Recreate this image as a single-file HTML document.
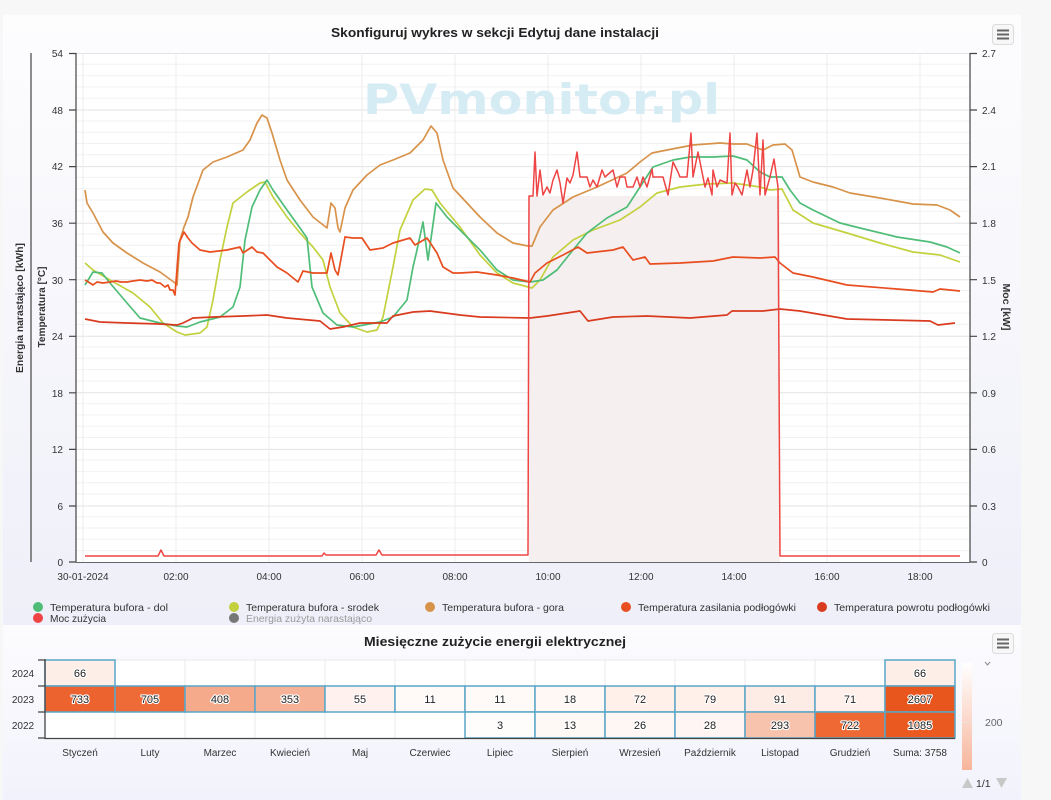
<!DOCTYPE html>
<html><head><meta charset="utf-8"><style>
html,body{margin:0;padding:0;background:#f7f7f7;width:1051px;height:800px;overflow:hidden}
svg{display:block;font-family:"Liberation Sans",sans-serif}
.t{font-size:10px;fill:#333}
.lg{font-size:10.5px;fill:#333}
.hv{font-size:11px;fill:#222;paint-order:stroke;stroke:#fff;stroke-width:2.2px;stroke-linejoin:round;text-anchor:middle}
</style></head><body>
<svg width="1051" height="800" viewBox="0 0 1051 800" xmlns="http://www.w3.org/2000/svg">
<defs>
<linearGradient id="bg1" x1="0" y1="0" x2="0" y2="1"><stop offset="0" stop-color="#fdfdfe"/><stop offset="1" stop-color="#efeff9"/></linearGradient>
<linearGradient id="bg2" x1="0" y1="0" x2="0" y2="1"><stop offset="0" stop-color="#fcfcfe"/><stop offset="1" stop-color="#f2f2fc"/></linearGradient>
<linearGradient id="cb" x1="0" y1="0" x2="0" y2="1"><stop offset="0" stop-color="#ffffff"/><stop offset="1" stop-color="#f7b59b"/></linearGradient>
</defs>
<rect x="0" y="0" width="1051" height="800" fill="#f7f7f7"/>
<rect x="3" y="15" width="1018" height="610" fill="url(#bg1)"/>
<rect x="3" y="625" width="1018" height="175" fill="url(#bg2)"/>
<rect x="76" y="53" width="894" height="509" fill="#fff"/>

<!-- minor grid -->
<g stroke="#f2f2f2" stroke-width="1">
<path d="M76 64.3H970M76 75.6H970M76 86.9H970M76 98.3H970M76 121H970M76 132.2H970M76 143.5H970M76 154.8H970M76 177.4H970M76 188.7H970M76 200H970M76 211.4H970M76 234H970M76 245.3H970M76 256.6H970M76 267.9H970M76 290.5H970M76 301.8H970M76 313.1H970M76 324.4H970M76 347H970M76 358.3H970M76 369.6H970M76 381H970M76 403.6H970M76 414.9H970M76 426.2H970M76 437.5H970M76 460.1H970M76 471.4H970M76 482.7H970M76 494H970M76 516.7H970M76 528H970M76 539.3H970M76 550.6H970"/>
</g>
<!-- major grid -->
<g stroke="#e3e3e3" stroke-width="1">
<path d="M76 53.5H970M76 110H970M76 166.6H970M76 223.2H970M76 279.7H970M76 336.3H970M76 392.8H970M76 449.4H970M76 506H970"/>
<path d="M83 53V562M176 53V562M269 53V562M362 53V562M455 53V562M548 53V562M641 53V562M734 53V562M827 53V562M920 53V562" stroke="#ececec"/>
</g>

<!-- watermark -->
<text x="363" y="114" font-family="DejaVu Sans,Liberation Sans,sans-serif" font-weight="bold" font-size="42" fill="#d6ecf4" textLength="357" lengthAdjust="spacingAndGlyphs">PVmonitor.pl</text>

<!-- power fill -->
<rect x="529" y="196" width="251" height="366" fill="#f5efef"/>

<!-- series -->
<g fill="none" stroke-width="1.7" stroke-linejoin="round">
<polyline stroke="#d8934b" points="85,190 87,203 93,213 103,232 113,243 127,253 143,263 160,272 175,283 177,285 180,240 184,227 188,217 193,197 203,170 213,162 227,157 243,150 250,140 257,123 262,115 267,118 272,133 280,160 287,180 300,200 313,217 327,228 331,203 335,208 338,228 340,232 345,208 353,190 367,175 380,165 393,160 410,153 423,140 431,126 437,133 443,160 453,188 480,217 497,233 513,243 528,246 532,246 540,227 553,210 573,197 597,187 627,173 640,162 652,153 667,150 693,145 720,143 733,144 747,144 757,148 763,150 773,145 785,144 792,150 800,177 813,182 833,187 850,193 880,198 913,204 937,205 950,210 960,217"/>
<polyline stroke="#c3d13f" points="85,263 93,270 110,280 133,293 150,307 163,323 177,332 185,335 200,333 207,327 213,300 220,260 227,227 233,203 247,192 260,183 265,182 273,197 287,217 300,233 313,247 323,260 330,287 340,313 353,327 367,332 377,330 383,317 393,267 400,230 413,200 425,189 432,190 440,203 460,227 480,255 497,273 513,283 532,288 540,280 553,257 573,240 593,230 620,220 640,207 657,193 680,187 707,184 733,183 760,187 770,190 782,189 793,210 813,223 847,233 880,243 913,252 940,255 960,262"/>
<polyline stroke="#4fbd78" points="85,285 93,272 102,273 110,283 127,303 140,318 160,323 177,326 187,327 200,322 220,317 233,307 240,287 245,240 252,207 260,190 267,180 273,190 287,210 300,228 307,238 312,287 323,313 337,325 353,327 380,322 393,317 407,300 413,267 417,250 423,222 428,260 436,203 447,217 460,230 480,250 497,270 513,280 530,282 543,280 557,270 573,250 587,233 607,218 627,207 640,187 653,167 673,160 690,157 713,157 733,156 747,160 760,172 770,177 782,177 790,190 800,203 813,210 840,223 860,228 897,237 930,242 947,247 960,253"/>
<polyline stroke="#e84e20" points="85,280 90,283 93,285 97,282 103,283 110,282 116,281 121,282 127,282 133,281 140,280 147,281 152,280 157,283 160,283 165,287 168,285 170,290 173,290 175,295 179,243 184,232 188,238 192,243 200,250 210,252 227,250 240,247 243,253 252,247 257,252 263,253 277,267 287,273 298,282 303,271 313,273 327,273 331,253 335,270 338,275 345,237 353,238 362,238 370,250 383,248 393,243 410,238 415,245 427,238 437,253 443,267 453,273 460,273 477,272 497,275 513,278 530,282 535,273 547,263 563,255 578,247 587,253 613,250 623,247 633,260 645,257 650,264 680,263 713,261 733,257 760,258 775,257 780,263 793,273 813,277 847,285 897,289 933,292 940,289 960,291"/>
<polyline stroke="#d93b1f" points="85,319 100,322 127,323 160,324 177,325 183,323 193,318 213,317 243,316 267,315 287,318 320,321 330,329 343,327 360,323 387,323 393,316 413,312 430,311 460,315 480,317 530,318 547,316 580,311 588,321 613,317 647,316 690,318 727,315 732,311 763,311 780,309 800,311 847,319 930,321 938,325 955,323"/>
<polyline stroke="#ef4444" stroke-width="1.5" points="85,556 158,556 161,550 164,556 322,556 324,553 326,555 376,555 379,550 382,555 528,555 529,196 533,196 535,152 537,196 540,170 543,195 547,187 550,193 553,180 557,170 560,183 563,203 567,178 570,183 573,175 577,152 580,177 587,177 590,187 593,180 597,187 602,170 605,177 613,170 617,187 620,177 625,177 627,187 633,187 637,177 640,187 643,177 647,187 652,169 653,177 663,177 668,195 673,162 678,172 680,177 687,177 691,133 693,177 698,152 702,172 705,187 708,178 712,195 713,170 717,187 720,180 727,183 730,133 732,195 735,183 738,187 742,195 747,170 750,187 753,170 757,133 760,195 763,140 765,195 770,177 774,159 778,187 780,556 960,556"/>
</g>

<!-- axes -->
<g stroke="#444" stroke-width="1.2" fill="none">
<path d="M76 53V562M970 53V562M31 53V562"/>
<path d="M69 53.5H76M69 110H76M69 166.6H76M69 223.2H76M69 279.7H76M69 336.3H76M69 392.8H76M69 449.4H76M69 506H76M69 562H76"/>
<path d="M970 53.5H977M970 110H977M970 166.6H977M970 223.2H977M970 279.7H977M970 336.3H977M970 392.8H977M970 449.4H977M970 506H977M970 562H977"/>
</g>
<path d="M76 562.5H970" stroke="#666" stroke-width="1" fill="none"/>
<g class="t" text-anchor="end">
<text x="63" y="57">54</text><text x="63" y="114">48</text><text x="63" y="170">42</text><text x="63" y="227">36</text><text x="63" y="284">30</text><text x="63" y="340">24</text><text x="63" y="397">18</text><text x="63" y="453">12</text><text x="63" y="510">6</text><text x="63" y="566">0</text>
</g>
<g class="t">
<text x="982" y="57">2.7</text><text x="982" y="114">2.4</text><text x="982" y="170">2.1</text><text x="982" y="227">1.8</text><text x="982" y="284">1.5</text><text x="982" y="340">1.2</text><text x="982" y="397">0.9</text><text x="982" y="453">0.6</text><text x="982" y="510">0.3</text><text x="982" y="566">0</text>
</g>
<g class="t" text-anchor="middle">
<text x="83" y="580">30-01-2024</text><text x="176" y="580">02:00</text><text x="269" y="580">04:00</text><text x="362" y="580">06:00</text><text x="455" y="580">08:00</text><text x="548" y="580">10:00</text><text x="641" y="580">12:00</text><text x="734" y="580">14:00</text><text x="827" y="580">16:00</text><text x="920" y="580">18:00</text>
</g>
<text transform="translate(23,308) rotate(-90)" text-anchor="middle" font-size="10" font-weight="bold" fill="#333" textLength="130" lengthAdjust="spacingAndGlyphs">Energia narastająco [kWh]</text>
<text transform="translate(45,307) rotate(-90)" text-anchor="middle" font-size="10" font-weight="bold" fill="#333" textLength="81" lengthAdjust="spacingAndGlyphs">Temperatura [°C]</text>
<text transform="translate(1003,307) rotate(90)" text-anchor="middle" font-size="10" font-weight="bold" fill="#333" textLength="47" lengthAdjust="spacingAndGlyphs">Moc [kW]</text>

<text x="495" y="37" text-anchor="middle" font-size="13" font-weight="bold" fill="#222" textLength="328" lengthAdjust="spacingAndGlyphs">Skonfiguruj wykres w sekcji Edytuj dane instalacji</text>

<!-- menu buttons -->
<g>
<rect x="992.5" y="24.5" width="21" height="20" rx="3" fill="#f7f7f7" stroke="#dcdcdc"/>
<path d="M997 30.5H1009M997 34.5H1009M997 38.5H1009" stroke="#666" stroke-width="2"/>
<rect x="992.5" y="633.5" width="21" height="20" rx="3" fill="#f7f7f7" stroke="#dcdcdc"/>
<path d="M997 639.5H1009M997 643.5H1009M997 647.5H1009" stroke="#666" stroke-width="2"/>
</g>

<!-- legend -->
<g>
<circle cx="38" cy="607" r="5" fill="#4fbd78"/><text class="lg" x="50" y="611" textLength="118" lengthAdjust="spacingAndGlyphs">Temperatura bufora - dol</text>
<circle cx="234" cy="607" r="5" fill="#c3d13f"/><text class="lg" x="246" y="611" textLength="133" lengthAdjust="spacingAndGlyphs">Temperatura bufora - srodek</text>
<circle cx="430" cy="607" r="5" fill="#d8934b"/><text class="lg" x="442" y="611" textLength="122" lengthAdjust="spacingAndGlyphs">Temperatura bufora - gora</text>
<circle cx="626" cy="607" r="5" fill="#e84e20"/><text class="lg" x="638" y="611" textLength="158" lengthAdjust="spacingAndGlyphs">Temperatura zasilania podłogówki</text>
<circle cx="822" cy="607" r="5" fill="#d93b1f"/><text class="lg" x="834" y="611" textLength="156" lengthAdjust="spacingAndGlyphs">Temperatura powrotu podłogówki</text>
<circle cx="38" cy="618" r="5" fill="#ef4444"/><text class="lg" x="50" y="622" textLength="56" lengthAdjust="spacingAndGlyphs">Moc zużycia</text>
<circle cx="234" cy="618" r="5" fill="#777"/><text class="lg" x="246" y="622" style="fill:#9a9a9a" textLength="126" lengthAdjust="spacingAndGlyphs">Energia zużyta narastająco</text>
</g>

<!-- heatmap -->
<text x="495" y="646" text-anchor="middle" font-size="13" font-weight="bold" fill="#222" textLength="262" lengthAdjust="spacingAndGlyphs">Miesięczne zużycie energii elektrycznej</text>
<rect x="45" y="660" width="910" height="78" fill="#fff"/>
<g stroke="#e8e8e8" stroke-width="1" fill="none">
<path d="M45 686H955M45 712H955M115 660V738M185 660V738M255 660V738M325 660V738M395 660V738M465 660V738M535 660V738M605 660V738M675 660V738M745 660V738M815 660V738M885 660V738M45 660H955M955 660V738"/>
</g>
<g stroke="#5aa6c8" stroke-width="1.5">
<rect x="45" y="660" width="70" height="26" fill="#fdeee8"/>
<rect x="885" y="660" width="70" height="26" fill="#fdeee8"/>
<rect x="45" y="686" width="70" height="26" fill="#ec6330"/>
<rect x="115" y="686" width="70" height="26" fill="#ee6a36"/>
<rect x="185" y="686" width="70" height="26" fill="#f4aa8b"/>
<rect x="255" y="686" width="70" height="26" fill="#f5b297"/>
<rect x="325" y="686" width="70" height="26" fill="#fff2ee"/>
<rect x="395" y="686" width="70" height="26" fill="#fffaf8"/>
<rect x="465" y="686" width="70" height="26" fill="#fffaf8"/>
<rect x="535" y="686" width="70" height="26" fill="#fff8f5"/>
<rect x="605" y="686" width="70" height="26" fill="#fff0ea"/>
<rect x="675" y="686" width="70" height="26" fill="#fff0ea"/>
<rect x="745" y="686" width="70" height="26" fill="#fdece5"/>
<rect x="815" y="686" width="70" height="26" fill="#fff0eb"/>
<rect x="885" y="686" width="70" height="26" fill="#e8561e"/>
<rect x="465" y="712" width="70" height="26" fill="#fffdfc"/>
<rect x="535" y="712" width="70" height="26" fill="#fff9f6"/>
<rect x="605" y="712" width="70" height="26" fill="#fff7f4"/>
<rect x="675" y="712" width="70" height="26" fill="#fff6f3"/>
<rect x="745" y="712" width="70" height="26" fill="#f8c3ad"/>
<rect x="815" y="712" width="70" height="26" fill="#ee6934"/>
<rect x="885" y="712" width="70" height="26" fill="#ea5920"/>
</g>
<g stroke="#444" stroke-width="1.3" fill="none">
<path d="M45 659V738.5H955"/>
<path d="M38 660H45M38 686H45M38 712H45M38 738H45"/>
</g>
<g class="hv">
<text x="80" y="677">66</text><text x="920" y="677">66</text>
<text x="80" y="703">733</text><text x="150" y="703">705</text><text x="220" y="703">408</text><text x="290" y="703">353</text><text x="360" y="703">55</text><text x="430" y="703">11</text><text x="500" y="703">11</text><text x="570" y="703">18</text><text x="640" y="703">72</text><text x="710" y="703">79</text><text x="780" y="703">91</text><text x="850" y="703">71</text><text x="920" y="703">2607</text>
<text x="500" y="729">3</text><text x="570" y="729">13</text><text x="640" y="729">26</text><text x="710" y="729">28</text><text x="780" y="729">293</text><text x="850" y="729">722</text><text x="920" y="729">1085</text>
</g>
<g class="t" text-anchor="middle">
<text x="23" y="677">2024</text><text x="23" y="703">2023</text><text x="23" y="729">2022</text>
<text x="80" y="756">Styczeń</text><text x="150" y="756">Luty</text><text x="220" y="756">Marzec</text><text x="290" y="756">Kwiecień</text><text x="360" y="756">Maj</text><text x="430" y="756">Czerwiec</text><text x="500" y="756">Lipiec</text><text x="570" y="756">Sierpień</text><text x="640" y="756">Wrzesień</text><text x="710" y="756">Październik</text><text x="780" y="756">Listopad</text><text x="850" y="756">Grudzień</text><text x="920" y="756">Suma: 3758</text>
</g>

<!-- color axis -->
<rect x="962" y="663" width="10" height="107" fill="url(#cb)"/>
<path d="M962 722.5H972" stroke="#f0e0da" stroke-width="1"/>
<path d="M985 662L987.5 665L990 662" stroke="#888" fill="none" stroke-width="1"/>
<text x="985" y="726" font-size="10.5" fill="#666">200</text>
<path d="M962 788L967.5 778L973 788Z" fill="#c8c8c8"/>
<text x="976" y="787" font-size="10.5" fill="#333">1/1</text>
<path d="M996 778L1007 778L1001.5 788Z" fill="#c8c8c8"/>
</svg>
</body></html>
